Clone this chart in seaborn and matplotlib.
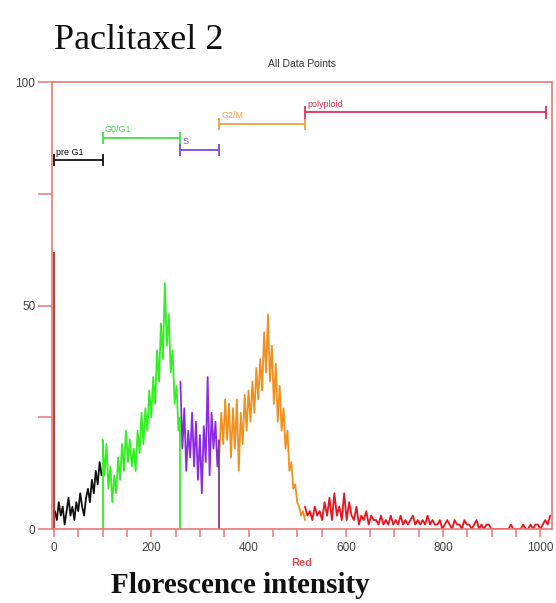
import numpy as np
import pandas as pd
import matplotlib.pyplot as plt
import seaborn as sns

# counts per channel
debris_count = 62
pre_g1 = [4, 2, 6, 3, 5, 1, 4, 7, 3, 5, 2, 6, 4, 8, 5, 3, 7, 9, 6, 11, 8, 13, 10, 15, 12]
g0g1 = [20, 12, 19, 9, 14, 6, 12, 8, 16, 11, 19, 13, 22, 15, 20, 14, 18, 13, 22, 17, 26,
        19, 27, 22, 31, 25, 34, 28, 40, 33, 46, 38, 55, 41, 48, 35, 40, 28, 32, 22, 25]
s_phase = [33, 18, 27, 13, 22, 16, 26, 14, 24, 11, 21, 8, 23, 15, 34, 12, 26, 18, 24, 14, 20]
g2m = [17, 26, 19, 29, 20, 28, 16, 27, 18, 29, 13, 26, 19, 30, 22, 31, 24, 33, 26, 36, 29,
       38, 31, 44, 35, 48, 33, 41, 28, 37, 24, 32, 22, 27, 18, 22, 13, 15, 9, 10, 6, 5, 3, 4, 2]
polyploid = [5, 3, 4, 2, 5, 3, 4, 2, 6, 3, 7, 2, 8, 3, 5, 2, 8,
             2, 6, 3, 2, 5, 1, 3, 2, 4, 1, 3, 2, 2, 1, 3, 1, 2, 1, 3, 1,
             2, 1, 3, 1, 2, 1, 2, 3, 1, 2, 1, 2, 1, 3, 1, 2, 1, 1, 2, 0,
             1, 2, 1, 0, 2, 1, 1, 0, 2, 1, 1, 0, 1, 2, 0, 1, 0, 1, 1, 0,
             0, 0, 0, 0, 0, 0, 0, 1, 0, 0, 0, 0, 1, 0, 0, 1, 0, 1, 1, 0, 1, 2, 1, 3]

gate_names = ['pre G1', 'G0/G1', 'S', 'G2/M', 'polyploid']
gate_values = [pre_g1, g0g1, s_phase, g2m, polyploid]
gate_start = [2, 100, 260, 340, 516]
gate_end = [98, 260, 340, 516, 1020]
marker_start = [0, 100, 260, 340, 516]
marker_end = [100, 260, 340, 516, 1012]
marker_level = [82.5, 87.5, 84.8, 90.6, 93.2]
line_colors = ['#111111', '#33ee22', '#8a2be2', '#f0901e', '#e8141e']
label_colors = ['#111111', '#44dd44', '#7a4ad8', '#f0a040', '#e0325a']

rows = []
for name, vals, a, b in zip(gate_names, gate_values, gate_start, gate_end):
    for ch, c in zip(np.linspace(a, b, len(vals)), vals):
        rows.append({'channel': ch, 'count': c, 'gate': name})
hist = pd.DataFrame(rows)

sns.set_style('white')
plt.rcParams['font.family'] = ['Liberation Sans', 'DejaVu Sans']

fig = plt.figure(figsize=(5.56, 6.03), dpi=100)
ax = fig.add_axes([0.0935, 0.1227, 0.8995, 0.7413])

sns.lineplot(data=hist, x='channel', y='count', hue='gate', hue_order=gate_names,
             palette=line_colors, estimator=None, sort=False, legend=False,
             linewidth=1.3, ax=ax)

# debris spike and gate edges dropping to the axis
ax.vlines(1, 0, debris_count, color='#b03030', lw=1.3)
ax.vlines(gate_start[1], 0, g0g1[0], color=line_colors[1], lw=1.3)
ax.vlines(gate_end[1], 0, g0g1[-1], color=line_colors[1], lw=1.3)
ax.vlines(gate_end[2], 0, s_phase[-1], color='#7a3a7a', lw=1.3)

# region markers
for name, a, b, lev, col in zip(gate_names, marker_start, marker_end, marker_level, label_colors):
    ax.hlines(lev, a, b, color=col, lw=1.3)
    ax.vlines([a, b], lev - 1.4, lev + 1.4, color=col, lw=1.3)
    ax.text(a + 4, lev + 0.8, name, color=col, fontsize=6.5, ha='left', va='bottom')

ax.set_xlim(-4, 1024)
ax.set_ylim(0, 100)
ax.set_xticks(range(0, 1001, 200))
ax.set_xticks(range(0, 1001, 50), minor=True)
ax.set_yticks([0, 50, 100])
ax.set_yticks([25, 75], minor=True)
for sp in ax.spines.values():
    sp.set_visible(True)
    sp.set_color('#e87878')
    sp.set_linewidth(1.2)
ax.tick_params(axis='y', which='both', length=10, width=1.1, color='#e87878',
               labelcolor='#444444', labelsize=8.5, pad=2, left=True)
ax.tick_params(axis='x', which='both', length=6, width=1.1, color='#e87878',
               labelcolor='#444444', labelsize=8.5, pad=3, bottom=True)
ax.set_xlabel('Red', color='#e05050', fontsize=8, fontweight='bold', labelpad=3)
ax.set_ylabel('')
ax.set_title('All Data Points', fontsize=7.5, color='#333333', pad=11)

fig.text(0.098, 0.96, 'Paclitaxel 2', fontsize=26, family='Liberation Serif',
         ha='left', va='top', color='#111111')
fig.text(0.432, 0.006, 'Florescence intensity', fontsize=21, family='Liberation Serif',
         fontweight='bold', ha='center', va='bottom', color='#111111')

fig.savefig('out.png', dpi=100)
